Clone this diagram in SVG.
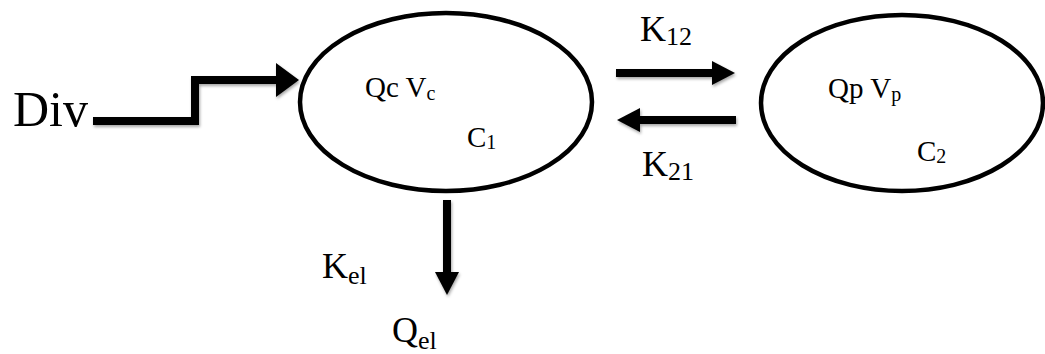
<svg xmlns="http://www.w3.org/2000/svg" width="1045" height="354" viewBox="0 0 1045 354">
  <style>
    .node { fill: #fff; stroke: #000; stroke-width: 4.5; }
    .conn { fill: none; stroke: #000; stroke-width: 8; stroke-linejoin: miter; filter: url(#shadow); }
    text { font-family: "Liberation Serif", "Times New Roman", serif; fill: #000; }
    .lbl { font-size: 36px; }
    .sub { font-size: 26px; }
    .inner { font-size: 29px; }
    .isub { font-size: 20px; }
  </style>
  <defs>
    <filter id="shadow" filterUnits="userSpaceOnUse" x="0" y="0" width="1045" height="354">
      <feDropShadow dx="1" dy="2" stdDeviation="1.5" flood-color="#000" flood-opacity="0.35"/>
    </filter>
    <marker id="head" markerUnits="userSpaceOnUse" markerWidth="24" markerHeight="26" refX="0" refY="13" orient="auto">
      <path d="M0,1 L23,13 L0,25 Z" fill="#000"/>
    </marker>
    <marker id="headBig" markerUnits="userSpaceOnUse" markerWidth="24" markerHeight="36" refX="0" refY="18" orient="auto">
      <path d="M0,1 L23,18 L0,35 Z" fill="#000"/>
    </marker>
  </defs>

  <g id="connectors">
    <polyline class="conn" points="93,121 195,121 195,80 276,80" marker-end="url(#headBig)"/>
    <line class="conn" x1="616" y1="73" x2="712" y2="73" marker-end="url(#head)"/>
    <line class="conn" x1="736" y1="120" x2="640" y2="120" marker-end="url(#head)"/>
    <line class="conn" x1="447" y1="200" x2="447" y2="272" marker-end="url(#head)"/>
  </g>

  <g id="central">
    <ellipse class="node" cx="446" cy="102" rx="146" ry="89"/>
    <text class="inner" x="365" y="97">Qc V<tspan class="isub" dy="3">c</tspan></text>
    <text class="inner" x="467" y="147">C<tspan class="isub" dy="2">1</tspan></text>
  </g>

  <g id="peripheral">
    <ellipse class="node" cx="902" cy="103" rx="141" ry="88"/>
    <text class="inner" x="828" y="98">Qp V<tspan class="isub" dy="3">p</tspan></text>
    <text class="inner" x="917" y="161">C<tspan class="isub" dy="2">2</tspan></text>
  </g>

  <g id="dose">
    <text x="13" y="126" font-size="50">Div</text>
  </g>

  <g id="labels">
    <text class="lbl" x="640" y="41">K<tspan class="sub" dy="4">12</tspan></text>
    <text class="lbl" x="642" y="176">K<tspan class="sub" dy="4">21</tspan></text>
    <text class="lbl" x="322" y="278">K<tspan class="sub" dy="6">el</tspan></text>
  </g>

  <g id="elimination">
    <text class="lbl" x="392" y="342">Q<tspan class="sub" dy="7">el</tspan></text>
  </g>
</svg>
